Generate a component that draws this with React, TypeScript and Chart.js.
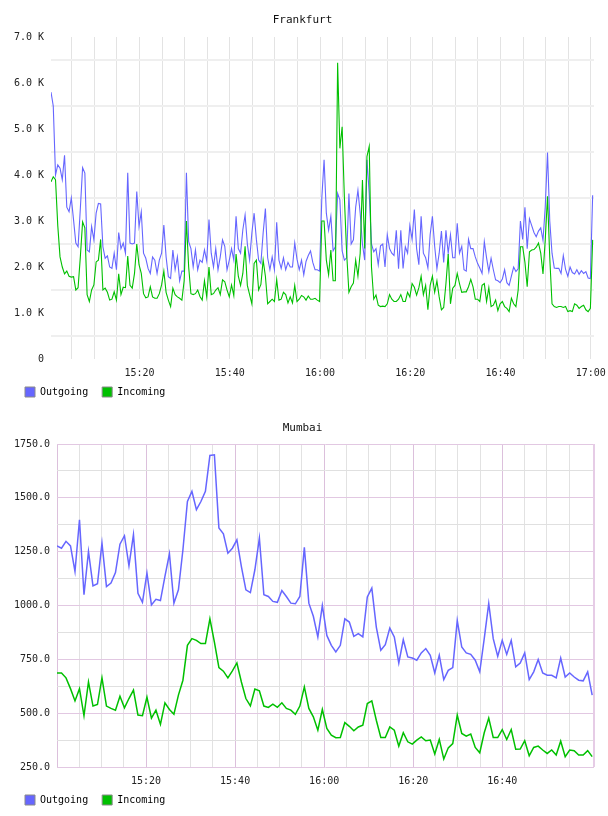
import React, { useEffect, useRef } from 'react';
import { Chart, registerables } from 'chart.js';

Chart.register(...registerables);

// ---- Frankfurt: 30-second samples (values in thousands), minutes after 15:00 ----
const FRANKFURT_START_MIN = 0.4;
const FRANKFURT_STEP_MIN = 0.5;

const frankfurtOutgoing = [
  5.80, 5.50, 4.00, 4.22, 4.15, 3.90, 4.43, 3.30, 3.20, 3.50,
  3.02, 2.52, 2.44, 3.27, 4.16, 4.04, 2.37, 2.33, 2.88, 2.59,
  3.17, 3.38, 3.37, 2.44, 2.19, 2.24, 2.00, 1.97, 2.30, 1.94,
  2.75, 2.40, 2.52, 2.30, 4.05, 2.52, 2.50, 2.52, 3.64, 2.88,
  3.20, 2.30, 2.19, 1.97, 1.86, 2.22, 2.15, 1.86, 2.15, 2.30,
  2.91, 2.22, 1.79, 1.75, 2.37, 1.94, 2.22, 1.70, 1.91, 1.91,
  4.05, 2.55,
  2.40, 2.00, 2.37, 1.94, 2.15, 2.10, 2.37, 2.13, 3.03, 2.30,
  2.00, 2.40, 1.94, 2.22, 2.59, 2.45, 1.94, 2.15, 2.40, 2.15,
  3.10, 2.40, 2.30, 2.81, 3.13, 2.50, 2.15, 2.74, 3.17, 2.60,
  2.15, 2.08, 2.74, 3.27, 2.20, 1.94, 2.22, 1.94, 2.97, 2.15,
  1.97, 2.20, 1.94, 2.10, 2.00, 2.00, 2.52, 2.17, 1.94, 2.15,
  1.83, 2.12, 2.25, 2.35, 2.10, 1.94, 1.94, 1.91, 3.50, 4.33,
  3.17,
  2.80, 3.10, 2.35, 2.44, 3.60, 3.46, 2.35, 2.15, 2.20, 3.60,
  2.50, 2.59, 3.30, 3.67, 3.17, 2.50, 2.15, 4.33, 3.60, 2.50,
  2.33, 2.40, 2.05, 2.46, 2.50, 2.00, 2.70, 2.40, 2.30, 2.25,
  2.80, 1.96, 2.80, 1.97, 2.44, 2.30, 2.90, 2.60, 3.25, 2.40,
  2.05, 3.10, 2.30, 2.20, 1.98, 2.70, 3.10, 2.45, 1.96, 2.30,
  2.78, 2.10, 2.80, 2.30, 2.70, 2.20, 2.20, 2.95, 2.30, 2.45,
  1.94,
  1.91, 2.60, 2.40, 2.40, 2.22, 2.08, 1.98, 1.86, 2.55, 2.20,
  1.90, 2.19, 1.94, 1.72, 1.70, 1.66, 1.74, 1.94, 1.66, 1.60,
  1.80, 2.00, 1.90, 1.96, 3.00, 2.60, 3.30, 2.40, 3.05, 2.90,
  2.75, 2.66, 2.78, 2.85, 2.58, 3.31, 4.49, 3.00, 2.30, 1.98,
  1.97, 1.97, 1.86, 2.25, 1.95, 1.80, 2.00, 1.88, 1.85, 1.94,
  1.84, 1.92, 1.86, 1.90, 1.76, 1.75, 3.56,
];

const frankfurtIncoming = [
  3.85, 3.96, 3.90, 2.90, 2.22, 2.00, 1.85, 1.91, 1.80, 1.78,
  1.79, 1.50, 1.55, 2.22, 2.98, 2.85, 1.40, 1.25, 1.50, 1.61,
  2.11, 2.15, 2.60, 1.50, 1.54, 1.45, 1.28, 1.30, 1.46, 1.28,
  1.85, 1.40, 1.56, 1.55, 2.24, 1.60, 1.54, 1.86, 2.50, 2.05,
  1.86, 1.42, 1.33, 1.35, 1.57, 1.35, 1.32, 1.32, 1.42, 1.61,
  1.91, 1.45, 1.28, 1.14, 1.54, 1.40, 1.35, 1.32, 1.28, 1.70,
  3.00, 2.00,
  1.42, 1.40, 1.42, 1.50, 1.36, 1.28, 1.70, 1.35, 2.00, 1.40,
  1.42, 1.50, 1.55, 1.40, 1.72, 1.68, 1.50, 1.35, 1.61, 1.38,
  2.28, 1.80, 1.60, 1.86, 2.45, 1.60, 1.40, 1.20, 2.08, 2.15,
  1.50, 1.62, 2.15, 1.80, 1.20, 1.25, 1.30, 1.25, 1.73, 1.28,
  1.30, 1.45, 1.40, 1.22, 1.35, 1.22, 1.60, 1.25, 1.30, 1.38,
  1.35, 1.28, 1.37, 1.30, 1.30, 1.32, 1.28, 1.25, 3.00, 3.00,
  2.15,
  1.83, 2.37, 1.70, 1.70, 6.44, 4.58, 5.05, 3.50, 2.30, 1.45,
  1.57, 1.65, 2.15, 1.80, 2.30, 3.89, 2.40, 4.40, 4.62, 2.00,
  1.30, 1.39, 1.17, 1.14, 1.15, 1.14, 1.20, 1.40, 1.30, 1.25,
  1.25, 1.30, 1.40, 1.25, 1.25, 1.45, 1.35, 1.64, 1.56, 1.39,
  1.55, 1.80, 1.40, 1.60, 1.07, 1.60, 1.80, 1.45, 1.70, 1.35,
  1.07, 1.12, 1.64, 2.28, 1.20, 1.54, 1.60, 1.86, 1.64, 1.45,
  1.46,
  1.46, 1.57, 1.73, 1.57, 1.30, 1.30, 1.25, 1.60, 1.64, 1.25,
  1.55, 1.14, 1.17, 1.28, 1.05, 1.20, 1.25, 1.14, 1.10, 1.03,
  1.32, 1.20, 1.14, 1.50, 2.44, 2.44, 2.10, 1.57, 2.33, 2.37,
  2.38, 2.43, 2.52, 2.30, 1.85, 2.59, 3.54, 2.20, 1.20, 1.14,
  1.12, 1.14, 1.14, 1.12, 1.14, 1.03, 1.05, 1.03, 1.20, 1.17,
  1.10, 1.14, 1.17, 1.07, 1.03, 1.10, 2.59,
];

// ---- Mumbai: one-minute samples, minutes after 15:00 ----
const MUMBAI_START_MIN = 0;
const MUMBAI_STEP_MIN = 1.01;

const mumbaiOutgoing = [
  1277, 1266, 1298, 1277, 1158, 1398, 1050, 1251, 1091, 1101,
  1290, 1088, 1104, 1153, 1285, 1324, 1184, 1329, 1057, 1015,
  1150, 1003, 1029, 1023, 1135, 1240, 1011, 1073, 1259, 1483,
  1530, 1445, 1483, 1530, 1697, 1700, 1360, 1333, 1243, 1266,
  1305, 1181, 1073, 1060, 1166, 1313, 1050, 1042, 1019, 1015,
  1070, 1042, 1011, 1008, 1042, 1270,
  1011, 950, 854, 1000, 861, 815, 784, 815, 938, 923,
  857, 869, 854, 1040, 1081, 900, 792, 818, 895, 854,
  733, 841, 761, 756, 746, 780, 800, 769, 687, 769,
  656, 699, 712, 930, 807, 780, 773, 746, 692, 846,
  1010, 846, 764, 838, 773, 838, 715, 733, 780, 656,
  692, 749, 687, 676, 676, 664, 756, 668, 687, 668,
  653, 650, 692, 584,
];

const mumbaiIncoming = [
  687, 687, 664, 614, 557, 614, 488, 645, 533, 540,
  664, 533, 522, 514, 579, 525, 568, 607, 491, 488,
  574, 477, 514, 448, 548, 517, 495, 584, 653, 815,
  846, 838, 823, 823, 938, 830, 712, 695, 664, 696,
  733, 645, 568, 534, 612, 604, 533, 527, 542, 527,
  548, 522, 514, 495, 533, 622,
  522, 483, 421, 517, 429, 398, 386, 387, 456, 439,
  418, 436, 444, 545, 557, 467, 387, 387, 436, 421,
  347, 409, 367, 356, 375, 390, 372, 375, 310, 378,
  287, 339, 359, 491, 406, 393, 403, 341, 316, 409,
  477, 387, 387, 424, 378, 424, 332, 333, 372, 302,
  341, 347, 329, 313, 329, 306, 370, 298, 329, 326,
  306, 306, 326, 298,
];

// ---- Axis labels ----
const frankfurtYTickValues = [0, 1, 2, 3, 4, 5, 6, 7];
const frankfurtYTickLabels = ['0', '1.0 K', '2.0 K', '3.0 K', '4.0 K', '5.0 K', '6.0 K', '7.0 K'];
const mumbaiYTickValues = [250, 500, 750, 1000, 1250, 1500, 1750];
const mumbaiYTickLabels = ['250.0', '500.0', '750.0', '1000.0', '1250.0', '1500.0', '1750.0'];
const timeTickMinutes = [20, 40, 60, 80, 100, 120];
const timeTickLabels = ['15:20', '15:40', '16:00', '16:20', '16:40', '17:00'];
const mumbaiTimeTickMinutes = [20, 40, 60, 80, 100];

const SERIES_NAMES = ['Outgoing', 'Incoming'];
const OUT_COLOR = '#6666ff';
const IN_COLOR = '#00c000';
const MONO = '"DejaVu Sans Mono", monospace';

const toPoints = (values: number[], start: number, step: number) =>
  values.map((v, i) => ({ x: start + i * step, y: v }));

const near = (a: number, b: number) => Math.abs(a - b) < 1e-6;

const lookup = (value: number, keys: number[], labels: string[]) => {
  const idx = keys.findIndex((k) => near(k, value));
  return idx >= 0 ? labels[idx] : '';
};

const legendOptions = {
  position: 'bottom' as const,
  align: 'start' as const,
  labels: {
    boxWidth: 10,
    boxHeight: 10,
    padding: 14,
    color: '#000',
    font: { family: MONO, size: 10 },
    sort: (a: any, b: any) => a.datasetIndex - b.datasetIndex,
    generateLabels: (chart: Chart) =>
      chart.data.datasets.map((ds: any, i: number) => ({
        text: ds.label,
        fillStyle: ds.borderColor,
        strokeStyle: '#8a8a8a',
        lineWidth: 1,
        hidden: false,
        datasetIndex: i,
      })),
  },
};

const titleOptions = (text: string, bottom: number) => ({
  display: true,
  text,
  color: '#111',
  font: { family: MONO, size: 11, weight: 'normal' as const },
  padding: { top: 13.4, bottom },
});

// time axis: fixed height, no extra side padding for the edge labels
const fixXAxis = (scale: any) => {
  scale.height = 22;
  scale.paddingLeft = 0;
  scale.paddingRight = 0;
};

// pull the legend row up so it sits just under the time labels
const LEGEND_LIFT = 8;
const liftLegend = {
  id: 'liftLegend',
  afterLayout(chart: any) {
    const lg = chart.legend;
    if (lg) {
      lg.top -= LEGEND_LIFT;
      lg.bottom -= LEGEND_LIFT;
    }
  },
};

// thin frame on the right edge of the plot area
const rightFrame = {
  id: 'rightFrame',
  beforeDatasetsDraw(chart: any) {
    const { ctx, chartArea: a } = chart;
    ctx.save();
    ctx.strokeStyle = '#e6cce6';
    ctx.lineWidth = 2;
    ctx.beginPath();
    ctx.moveTo(a.right, a.top);
    ctx.lineTo(a.right, a.bottom);
    ctx.stroke();
    ctx.restore();
  },
};

const LAYOUT_PADDING = { left: 11, right: 14, top: 0, bottom: -7 };

export default function App() {
  const topRef = useRef<HTMLCanvasElement>(null);
  const bottomRef = useRef<HTMLCanvasElement>(null);

  useEffect(() => {
    const frankfurt = new Chart(topRef.current!, {
      type: 'line',
      data: {
        datasets: [
          {
            label: SERIES_NAMES[0],
            data: toPoints(frankfurtOutgoing, FRANKFURT_START_MIN, FRANKFURT_STEP_MIN),
            borderColor: OUT_COLOR,
            borderWidth: 1.1,
            pointRadius: 0,
            tension: 0,
            order: 1,
          },
          {
            label: SERIES_NAMES[1],
            data: toPoints(frankfurtIncoming, FRANKFURT_START_MIN, FRANKFURT_STEP_MIN),
            borderColor: IN_COLOR,
            borderWidth: 1.1,
            pointRadius: 0,
            tension: 0,
            order: 0,
          },
        ],
      },
      options: {
        responsive: false,
        animation: false,
        layout: { padding: LAYOUT_PADDING },
        plugins: {
          title: titleOptions('Frankfurt', 10.4),
          legend: legendOptions,
          tooltip: { enabled: false },
        },
        scales: {
          x: {
            type: 'linear',
            min: FRANKFURT_START_MIN,
            max: 120.7,
            border: { display: false },
            grid: {
              drawTicks: false,
              lineWidth: 1,
              color: (c: any) => (c.tick && near(c.tick.value % 5, 0) ? '#e3e3e3' : 'rgba(0,0,0,0)'),
            },
            ticks: {
              stepSize: 5,
              includeBounds: false,
              autoSkip: false,
              maxRotation: 0,
              minRotation: 0,
              padding: 8,
              color: '#222',
              font: { family: MONO, size: 10 },
              callback: (v: any) => lookup(Number(v), timeTickMinutes, timeTickLabels),
            },
            afterFit: fixXAxis,
          },
          y: {
            min: 0,
            max: 7,
            border: { display: false },
            grid: {
              drawTicks: false,
              lineWidth: 2,
              color: (c: any) => (c.tick && !near(c.tick.value % 1, 0) ? '#efefef' : 'rgba(0,0,0,0)'),
            },
            ticks: {
              stepSize: 0.5,
              autoSkip: false,
              padding: 7,
              color: '#222',
              font: { family: MONO, size: 10 },
              callback: (v: any) => lookup(Number(v), frankfurtYTickValues, frankfurtYTickLabels),
            },
            afterFit: (scale: any) => {
              scale.width = 40;
            },
          },
        },
      } as any,
      plugins: [liftLegend],
    });

    const mumbai = new Chart(bottomRef.current!, {
      type: 'line',
      data: {
        datasets: [
          {
            label: SERIES_NAMES[0],
            data: toPoints(mumbaiOutgoing, MUMBAI_START_MIN, MUMBAI_STEP_MIN),
            borderColor: OUT_COLOR,
            borderWidth: 1.5,
            pointRadius: 0,
            tension: 0,
            order: 1,
          },
          {
            label: SERIES_NAMES[1],
            data: toPoints(mumbaiIncoming, MUMBAI_START_MIN, MUMBAI_STEP_MIN),
            borderColor: IN_COLOR,
            borderWidth: 1.5,
            pointRadius: 0,
            tension: 0,
            order: 0,
          },
        ],
      },
      options: {
        responsive: false,
        animation: false,
        layout: { padding: LAYOUT_PADDING },
        plugins: {
          title: titleOptions('Mumbai', 9.4),
          legend: legendOptions,
          tooltip: { enabled: false },
        },
        scales: {
          x: {
            type: 'linear',
            min: MUMBAI_START_MIN,
            max: 120.6,
            border: { display: false },
            grid: {
              drawTicks: false,
              lineWidth: 1,
              color: (c: any) => {
                if (!c.tick) return 'rgba(0,0,0,0)';
                if (near(c.tick.value, 120)) return 'rgba(0,0,0,0)';
                return near(c.tick.value % 20, 0) ? '#dcc0dc' : '#e2e2e2';
              },
            },
            ticks: {
              stepSize: 5,
              includeBounds: false,
              autoSkip: false,
              maxRotation: 0,
              minRotation: 0,
              padding: 8,
              color: '#222',
              font: { family: MONO, size: 10 },
              callback: (v: any) => lookup(Number(v), mumbaiTimeTickMinutes, timeTickLabels),
            },
            afterFit: fixXAxis,
          },
          y: {
            min: 250,
            max: 1750,
            border: { display: false },
            grid: {
              drawTicks: false,
              lineWidth: 1,
              color: (c: any) =>
                c.tick && near(c.tick.value % 250, 0) ? '#e2c8e2' : '#e0e0e0',
            },
            ticks: {
              stepSize: 125,
              autoSkip: false,
              padding: 7,
              color: '#222',
              font: { family: MONO, size: 10 },
              callback: (v: any) => lookup(Number(v), mumbaiYTickValues, mumbaiYTickLabels),
            },
            afterFit: (scale: any) => {
              scale.width = 46;
            },
          },
        },
      } as any,
      plugins: [rightFrame, liftLegend],
    });

    return () => {
      frankfurt.destroy();
      mumbai.destroy();
    };
  }, []);

  return (
    <div style={{ position: 'absolute', left: 0, top: 0, width: 608, background: '#fff' }}>
      <canvas ref={topRef} width={608} height={408} style={{ display: 'block' }} />
      <canvas ref={bottomRef} width={608} height={408} style={{ display: 'block' }} />
    </div>
  );
}
